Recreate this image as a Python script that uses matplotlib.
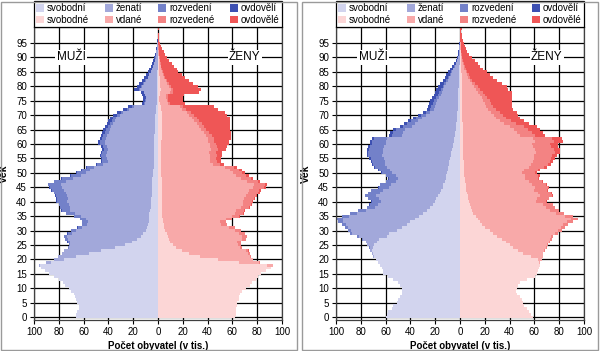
import numpy as np
import matplotlib.pyplot as plt
from matplotlib.patches import Patch, Rectangle

plt.rcParams['font.family'] = ['Liberation Sans', 'DejaVu Sans']

# vek 0 .. 100, pocty v tisicich
vek = np.arange(0, 101)

# ---- levy graf ----
m1_svobodni = [
    66, 66, 65, 64, 64, 65, 66, 67, 68, 70,
    72, 75, 77, 80, 84, 88, 91, 94, 95, 86,
    76, 66, 56, 46, 35, 27, 21, 17, 14, 12,
    10, 9, 8, 7.5, 7, 7, 7, 6.5, 6, 6,
    5.5, 5.5, 5, 5, 5, 5, 5, 4.5, 4.5, 4,
    4, 4, 3.5, 3, 3, 3, 3, 3, 3, 3,
    3, 3, 3, 3, 2.8, 2.7, 2.6, 2.5, 2.4, 2.3,
    2.2, 2.0, 1.8, 1.5, 0.9, 0.8, 0.8, 0.8, 0.9, 1.1,
    1.0, 0.9, 0.8, 0.7, 0.6, 0.5, 0.4, 0.4, 0.3, 0.3,
    0.2, 0.2, 0.1, 0.1, 0.1, 0.05, 0, 0, 0, 0,
    0]
m1_zenati = [
    0, 0, 0, 0, 0, 0, 0, 0, 0, 0,
    0, 0, 0, 0, 0, 0, 0, 0, 1, 4,
    8, 15, 21.5, 29.5, 37, 43.7, 50.2, 55.7, 59.1, 57.7,
    56.3, 52.1, 48.9, 49.1, 51.0, 55.3, 60.3, 64.1, 65.2, 65.8,
    67.7, 67.4, 68.4, 69.1, 70.8, 72.5, 73.5, 69.5, 64.1, 58.4,
    54.3, 50.8, 47.8, 41.2, 37.7, 37.8, 38.8, 37.9, 37.0, 38.0,
    39.9, 39.7, 38.8, 37.8, 37.0, 36.1, 35.1, 33.4, 32.4, 31.5,
    28.7, 26.0, 21.6, 18.2, 9.7, 8.8, 8.7, 9.4, 10.0, 13.5,
    12.0, 10.4, 8.9, 7.4, 6.3, 5.2, 4.5, 3.8, 3.1, 2.4,
    1.8, 1.5, 1.2, 0.9, 0.6, 0.45, 0.3, 0.2, 0.15, 0.1,
    0.1]
m1_rozvedeni = [
    0, 0, 0, 0, 0, 0, 0, 0, 0, 0,
    0, 0, 0, 0, 0, 0, 0, 0, 0, 0,
    0, 0, 0.3, 0.5, 0.8, 1.2, 1.7, 2.2, 2.8, 3.2,
    3.6, 3.8, 4.0, 4.3, 4.8, 5.5, 6.5, 7.2, 7.6, 8.0,
    8.5, 8.8, 9.2, 9.5, 9.8, 10, 10, 9.5, 8.8, 8,
    7, 6.5, 6, 5, 4.5, 4.3, 4.2, 4.0, 3.8, 3.7,
    3.7, 3.7, 3.5, 3.3, 3.1, 3.0, 2.9, 2.6, 2.5, 2.3,
    2.1, 1.9, 1.6, 1.3, 0.7, 0.6, 0.5, 0.5, 0.5, 0.7,
    0.6, 0.5, 0.4, 0.3, 0.3, 0.2, 0.2, 0.1, 0.1, 0.1,
    0.1, 0, 0, 0, 0, 0, 0, 0, 0, 0,
    0]
m1_ovdoveli = [
    0, 0, 0, 0, 0, 0, 0, 0, 0, 0,
    0, 0, 0, 0, 0, 0, 0, 0, 0, 0,
    0, 0, 0, 0, 0, 0.1, 0.1, 0.1, 0.1, 0.1,
    0.1, 0.1, 0.1, 0.1, 0.2, 0.2, 0.2, 0.2, 0.2, 0.2,
    0.3, 0.3, 0.4, 0.4, 0.4, 0.5, 0.5, 0.5, 0.6, 0.6,
    0.7, 0.7, 0.7, 0.8, 0.8, 0.9, 1.0, 1.1, 1.2, 1.3,
    1.4, 1.6, 1.7, 1.9, 2.1, 2.2, 2.4, 2.5, 2.7, 2.9,
    3.0, 3.1, 3.0, 3.0, 1.7, 1.8, 2.0, 2.3, 2.6, 3.7,
    3.4, 3.2, 2.9, 2.6, 2.3, 2.1, 1.9, 1.7, 1.5, 1.2,
    0.9, 0.8, 0.7, 0.5, 0.3, 0.3, 0.2, 0.2, 0.15, 0.1,
    0.2]

z1_svobodne = [
    62, 63, 63, 63, 64, 64, 65, 65, 66, 68,
    71, 74, 76, 79, 81, 83, 87, 91, 88, 65,
    48, 34, 25, 19, 14.5, 12, 10, 9, 8, 7,
    6, 5, 4.5, 4, 4, 3.5, 3.5, 3.3, 3.3, 3.2,
    3.2, 3.1, 3.1, 3, 3, 3, 3, 2.9, 2.9, 2.8,
    2.8, 2.8, 2.7, 2.4, 2.3, 2.3, 2.4, 2.4, 2.5, 2.6,
    2.7, 2.8, 2.9, 3.0, 3.0, 3.0, 3.0, 3.0, 3.0, 3.0,
    3.0, 2.9, 2.7, 2.6, 1.3, 1.2, 1.2, 1.3, 2.0, 2.1,
    2.0, 1.8, 1.6, 1.4, 1.2, 1.0, 0.9, 0.8, 0.7, 0.6,
    0.5, 0.4, 0.3, 0.2, 0.2, 0.1, 0.1, 0.05, 0.05, 0,
    0.05]
z1_vdane = [
    0, 0, 0, 0, 0, 0, 0, 0, 0, 0,
    0, 0, 0, 0, 0, 0, 0, 0, 5, 16.7,
    28.4, 40, 47.6, 52.2, 51.3, 52.4, 54, 58.5, 60, 58.6,
    56.2, 52.2, 46.7, 46, 50.5, 56.3, 58.9, 59.7, 63.3, 65,
    65.6, 66.3, 67.8, 69.6, 70.2, 73.5, 74.1, 68.6, 64, 60.3,
    57.5, 55.4, 51.7, 41.9, 39.9, 39.3, 39.3, 38.6, 40, 39.7,
    39.1, 37.7, 37.3, 35.6, 33.9, 31.8, 30, 28.2, 26.4, 24.5,
    22.4, 20.5, 16.9, 14.8, 6.8, 5.9, 5.6, 5.4, 8, 8,
    6.8, 5.5, 4.5, 3.6, 2.8, 2.2, 1.9, 1.5, 1.1, 0.8,
    0.6, 0.4, 0.3, 0.2, 0.15, 0.1, 0.1, 0.05, 0.05, 0.05,
    0.05]
z1_rozvedene = [
    0, 0, 0, 0, 0, 0, 0, 0, 0, 0,
    0, 0, 0, 0, 0, 0, 0, 0, 0, 0.3,
    0.6, 1, 1.3, 1.7, 2.1, 2.5, 2.9, 3.3, 3.8, 4.2,
    4.5, 4.5, 4.5, 4.6, 5.1, 5.7, 6.1, 6.4, 6.8, 7.1,
    7.4, 7.7, 8.1, 8.3, 8.6, 9.1, 9.3, 8.8, 8.3, 7.9,
    7.5, 7.3, 6.8, 5.7, 5.5, 5.5, 5.5, 5.4, 5.5, 5.4,
    5.3, 5.0, 4.9, 4.7, 4.5, 4.3, 4.2, 4.0, 3.9, 3.8,
    3.6, 3.4, 3.0, 2.8, 1.3, 1.2, 1.1, 1.1, 1.7, 1.7,
    1.5, 1.3, 1.1, 0.9, 0.8, 0.7, 0.6, 0.5, 0.4, 0.3,
    0.25, 0.2, 0.15, 0.1, 0.1, 0.05, 0, 0, 0, 0,
    0]
z1_ovdovele = [
    0, 0, 0, 0, 0, 0, 0, 0, 0, 0,
    0, 0, 0, 0, 0, 0, 0, 0, 0, 0,
    0, 0, 0.1, 0.1, 0.1, 0.1, 0.1, 0.2, 0.2, 0.2,
    0.3, 0.3, 0.3, 0.4, 0.4, 0.5, 0.5, 0.6, 0.6, 0.7,
    0.8, 0.9, 1.0, 1.1, 1.2, 1.4, 1.6, 1.7, 1.8, 2.0,
    2.2, 2.5, 2.8, 3.0, 3.3, 3.9, 4.8, 5.6, 7.0, 8.3,
    9.9, 11.5, 13.9, 15.7, 17.6, 18.9, 20.8, 22.8, 24.7, 26.7,
    27, 27.2, 25.4, 24.8, 12.6, 11.7, 12.1, 13.2, 21.3, 23.2,
    21.7, 19.4, 17.8, 16.1, 14.2, 12.1, 11.6, 10.2, 8.8, 7.3,
    5.65, 4.5, 3.75, 2.8, 2.05, 1.55, 1.0, 0.7, 0.4, 0.25,
    0.5]

# ---- pravy graf ----
m2_svobodni = [
    60, 59, 58, 55, 54, 51, 50, 48, 47, 47,
    47, 48, 50, 54, 58, 62, 62, 63, 64.5, 66,
    67.8, 69.5, 70, 71, 70, 69, 67, 65, 59, 57,
    51, 47, 43, 40, 36, 33, 30, 27, 24, 22,
    20, 19, 18, 16, 15, 14, 13.5, 12, 11.5, 11,
    10.5, 10, 9.5, 9, 8.5, 8, 7.5, 7, 6.5, 6,
    5.5, 5.2, 5, 4, 3.8, 3.5, 3.2, 3, 2.8, 2.6,
    2.4, 2.2, 2, 1.9, 1.8, 1.7, 1.6, 1.5, 1.4, 1.3,
    1.2, 1.1, 1.0, 0.9, 0.8, 0.7, 0.6, 0.5, 0.4, 0.3,
    0.2, 0.15, 0.1, 0.1, 0.05, 0.05, 0, 0, 0, 0,
    0]
m2_zenati = [
    0, 0, 0, 0, 0, 0, 0, 0, 0, 0,
    0, 0, 0, 0, 0, 0, 0, 0, 0, 0,
    0.2, 0.5, 1, 1.5, 2.8, 5.7, 8.5, 13.2, 22.8, 29.9,
    36.9, 43.3, 48.7, 54.0, 58.3, 56.8, 52.8, 48.8, 44.3, 43.8,
    43.7, 46.6, 49.5, 48.7, 47.5, 43.2, 42.4, 39.9, 38.6, 40.7,
    44.1, 46.5, 49.4, 51.3, 52.2, 53.1, 55.2, 55.5, 55.9, 55.1,
    54.2, 54.5, 53.6, 42.8, 42.3, 40.5, 35.8, 33.5, 31.3, 28.1,
    24.9, 21.6, 19.2, 18.4, 17.5, 16.6, 15.4, 14.2, 13.4, 12.6,
    11.5, 10.4, 8.9, 7.8, 6.7, 5.6, 4.7, 3.8, 2.8, 2.0,
    1.4, 1.0, 0.8, 0.6, 0.45, 0.3, 0.2, 0.15, 0.1, 0.05,
    0.1]
m2_rozvedeni = [
    0, 0, 0, 0, 0, 0, 0, 0, 0, 0,
    0, 0, 0, 0, 0, 0, 0, 0, 0, 0,
    0, 0, 0, 0, 0.2, 0.3, 0.5, 0.8, 1.2, 1.6,
    2.1, 2.7, 3.3, 4.0, 4.6, 5.1, 5.6, 6.1, 6.6, 7.1,
    7.6, 8.2, 8.8, 9.1, 9.2, 8.5, 8.3, 7.8, 7.5, 7.9,
    8.4, 8.9, 9.4, 9.9, 10.4, 10.9, 11.2, 11.3, 11.3, 11.4,
    11.2, 11, 10.5, 8.4, 8.3, 7.8, 6.8, 6.3, 5.7, 5.0,
    4.3, 3.7, 3.2, 2.9, 2.7, 2.5, 2.2, 2.0, 1.8, 1.6,
    1.4, 1.2, 1.0, 0.9, 0.8, 0.6, 0.5, 0.4, 0.3, 0.2,
    0.1, 0.05, 0, 0, 0, 0, 0, 0, 0, 0,
    0]
m2_ovdoveli = [
    0, 0, 0, 0, 0, 0, 0, 0, 0, 0,
    0, 0, 0, 0, 0, 0, 0, 0, 0, 0,
    0, 0, 0, 0, 0, 0, 0, 0, 0, 0,
    0, 0, 0, 0, 0.1, 0.1, 0.1, 0.1, 0.1, 0.1,
    0.2, 0.2, 0.2, 0.2, 0.3, 0.3, 0.3, 0.3, 0.4, 0.4,
    0.5, 0.6, 0.7, 0.8, 0.9, 1.0, 1.1, 1.2, 1.3, 1.5,
    1.6, 1.8, 1.9, 1.8, 2.1, 2.2, 2.2, 2.2, 2.2, 2.3,
    2.4, 2.5, 2.6, 2.8, 3.0, 3.2, 3.3, 3.3, 3.4, 3.5,
    3.4, 3.3, 3.1, 2.9, 2.7, 2.5, 2.2, 1.8, 1.5, 1.1,
    0.8, 0.6, 0.5, 0.4, 0.3, 0.25, 0.2, 0.15, 0.1, 0.05,
    0.1]

z2_svobodne = [
    59, 57, 56, 54, 52, 51, 50, 48, 46, 45.5,
    45.7, 47, 48, 54, 60.5, 62, 63, 64, 64.2, 63.5,
    63, 57, 51, 47, 43, 40, 37, 34, 30, 27,
    24.5, 20, 18, 16, 14.5, 12.5, 10.2, 9.5, 8.8, 8,
    7.2, 6.6, 6.1, 5.6, 5.2, 4.8, 4.5, 4.2, 3.9, 3.6,
    3.4, 3.2, 3.1, 3.0, 2.9, 2.8, 2.8, 2.8, 2.8, 2.7,
    2.7, 2.8, 2.8, 2.4, 2.3, 2.3, 2.3, 2.1, 2.0, 1.9,
    1.9, 1.9, 1.8, 1.8, 1.8, 1.8, 1.8, 1.8, 1.8, 1.7,
    1.7, 1.6, 1.5, 1.4, 1.3, 1.2, 1.1, 1.0, 0.9, 0.8,
    0.7, 0.6, 0.5, 0.4, 0.3, 0.3, 0.2, 0.2, 0.1, 0.1,
    0.1]
z2_vdane = [
    0, 0, 0, 0, 0, 0, 0, 0, 0, 0,
    0, 0, 0, 0, 0, 0, 0, 0, 0.3, 1,
    2.9, 9.8, 15.7, 21.1, 26.4, 30.2, 34.5, 38.6, 43.2, 49.7,
    54.6, 61.2, 64.8, 70.1, 74.8, 72.3, 67.1, 63.3, 60.4, 58.7,
    54.0, 55.6, 58.2, 57.3, 54.8, 55.5, 53.7, 51.1, 48.6, 48.9,
    46.9, 48.7, 52.8, 54.6, 55.7, 56.5, 57.1, 58.6, 58.0, 56.2,
    55.6, 57.5, 55.8, 45.8, 43.8, 41.0, 38.1, 33.2, 30.0, 26.9,
    25.2, 23.4, 20.9, 19.3, 18.2, 17.0, 15.6, 14.3, 12.9, 11.0,
    9.8, 7.9, 6.4, 5.2, 4.1, 3.3, 2.5, 2.0, 1.5, 1.1,
    0.8, 0.6, 0.4, 0.3, 0.2, 0.2, 0.1, 0.1, 0.1, 0.05,
    0.1]
z2_rozvedene = [
    0, 0, 0, 0, 0, 0, 0, 0, 0, 0,
    0, 0, 0, 0, 0, 0, 0, 0, 0, 0,
    0.1, 0.2, 0.3, 0.4, 0.6, 0.8, 1.1, 1.4, 1.8, 2.3,
    2.8, 3.4, 4.1, 4.8, 5.5, 6.0, 6.5, 7.0, 7.5, 8.0,
    8.4, 9.3, 10.1, 10.4, 10.2, 10.8, 10.8, 10.6, 10.3, 10.6,
    10.2, 10.9, 12.1, 13.0, 13.6, 14.1, 14.4, 14.9, 14.9, 14.6,
    14.5, 15.5, 15.4, 12.6, 12.3, 11.7, 11.1, 9.8, 8.9, 8.0,
    7.5, 7.0, 6.3, 5.8, 5.4, 5.0, 4.6, 4.2, 3.8, 3.3,
    3.0, 2.5, 2.1, 1.8, 1.5, 1.2, 1.0, 0.8, 0.7, 0.6,
    0.5, 0.4, 0.3, 0.2, 0.2, 0.1, 0.1, 0.1, 0.05, 0,
    0.1]
z2_ovdovele = [
    0, 0, 0, 0, 0, 0, 0, 0, 0, 0,
    0, 0, 0, 0, 0, 0, 0, 0, 0, 0,
    0, 0, 0, 0, 0, 0, 0, 0, 0, 0,
    0.1, 0.1, 0.1, 0.1, 0.2, 0.2, 0.2, 0.2, 0.3, 0.3,
    0.4, 0.5, 0.6, 0.7, 0.8, 0.9, 1.0, 1.1, 1.2, 1.4,
    1.5, 1.7, 2.0, 2.4, 2.8, 3.2, 3.7, 4.3, 4.9, 5.5,
    6.2, 7.2, 8.0, 7.7, 8.6, 9.5, 10.5, 10.9, 11.1, 11.2,
    12.4, 13.4, 14.0, 14.8, 16.3, 17.9, 19.7, 21.4, 23.2, 22.6,
    23.1, 21.6, 20.0, 18.6, 17.1, 15.8, 13.9, 12.7, 11.4, 9.5,
    7.4, 5.9, 4.8, 4.1, 3.5, 2.9, 2.1, 1.6, 1.25, 0.85,
    1.2]

muzi_popisky = ['svobodní', 'ženatí', 'rozvedení', 'ovdovělí']
zeny_popisky = ['svobodné', 'vdané', 'rozvedené', 'ovdovělé']
muzi_barvy = ['#d2d4ee', '#a2a8da', '#7381c9', '#3d50b2']
zeny_barvy = ['#fcd6d6', '#f8a9a9', '#f38383', '#ef5656']

W, H = 600, 351
fig = plt.figure(figsize=(W / 100, H / 100), dpi=100)
fig.patch.set_facecolor('white')

edges = np.arange(-0.5, 101, 1)


def kresli(ax, muzi, zeny):
    # vnejsi vrstvy nejdriv, vnitrni prekresli pres ne
    for data, barvy, znam in [(muzi, muzi_barvy, -1), (zeny, zeny_barvy, 1)]:
        kum = np.cumsum(np.array(data, dtype=float), axis=0)
        for i in range(3, -1, -1):
            ax.stairs(znam * kum[i], edges, baseline=0, fill=True,
                      orientation='horizontal', color=barvy[i], lw=0, zorder=2)

    ax.set_xlim(-100, 100)
    ax.set_ylim(-1, 100.5)
    ax.set_xticks(np.arange(-100, 101, 20))
    ax.set_xticklabels([str(abs(v)) for v in range(-100, 101, 20)])
    ax.set_yticks(np.arange(0, 96, 5))
    ax.set_axisbelow(True)
    ax.grid(True, color='black', lw=0.9)
    ax.tick_params(labelsize=7, length=3, width=0.8, pad=2, colors='black')
    for s in ax.spines.values():
        s.set_color('#404040')
        s.set_linewidth(0.9)
    ax.set_xlabel('Počet obyvatel (v tis.)', fontsize=7, fontweight='bold', labelpad=3)
    ax.set_ylabel('Věk', fontsize=7.5, fontweight='bold', labelpad=5)

    ax.text(-70, 90, 'MUŽI', fontsize=8.5, ha='center', va='center', zorder=5,
            bbox=dict(facecolor='white', edgecolor='none', pad=1))
    ax.text(70, 90, 'ŽENY', fontsize=8.5, ha='center', va='center', zorder=5,
            bbox=dict(facecolor='white', edgecolor='none', pad=1))

    handles = []
    labels = []
    for k in range(4):
        handles += [Patch(facecolor=muzi_barvy[k]), Patch(facecolor=zeny_barvy[k])]
        labels += [muzi_popisky[k], zeny_popisky[k]]
    leg = ax.legend(handles, labels, ncol=4, loc='lower left', mode='expand',
                    bbox_to_anchor=(0, 1, 1, 0.09), borderaxespad=0,
                    fontsize=7, handlelength=0.8, handleheight=0.8,
                    handletextpad=0.3, columnspacing=0.6, labelspacing=0.15,
                    borderpad=0.25, fancybox=False, framealpha=1)
    leg.get_frame().set_edgecolor('black')
    leg.get_frame().set_linewidth(0.9)


bottom = 1 - 319.9 / H
height = 292.7 / H
ax1 = fig.add_axes([34 / W, bottom, 248 / W, height])
ax2 = fig.add_axes([336 / W, bottom, 248 / W, height])

kresli(ax1, [m1_svobodni, m1_zenati, m1_rozvedeni, m1_ovdoveli],
       [z1_svobodne, z1_vdane, z1_rozvedene, z1_ovdovele])
kresli(ax2, [m2_svobodni, m2_zenati, m2_rozvedeni, m2_ovdoveli],
       [z2_svobodne, z2_vdane, z2_rozvedene, z2_ovdovele])

# ramecky obou obrazku
for x0 in (1, 302):
    fig.patches.append(Rectangle((x0 / W, 1 / H), 296 / W, 348 / H,
                                 transform=fig.transFigure, fill=False,
                                 edgecolor='#9a9a9a', lw=1))

fig.savefig('out.png', dpi=100)
